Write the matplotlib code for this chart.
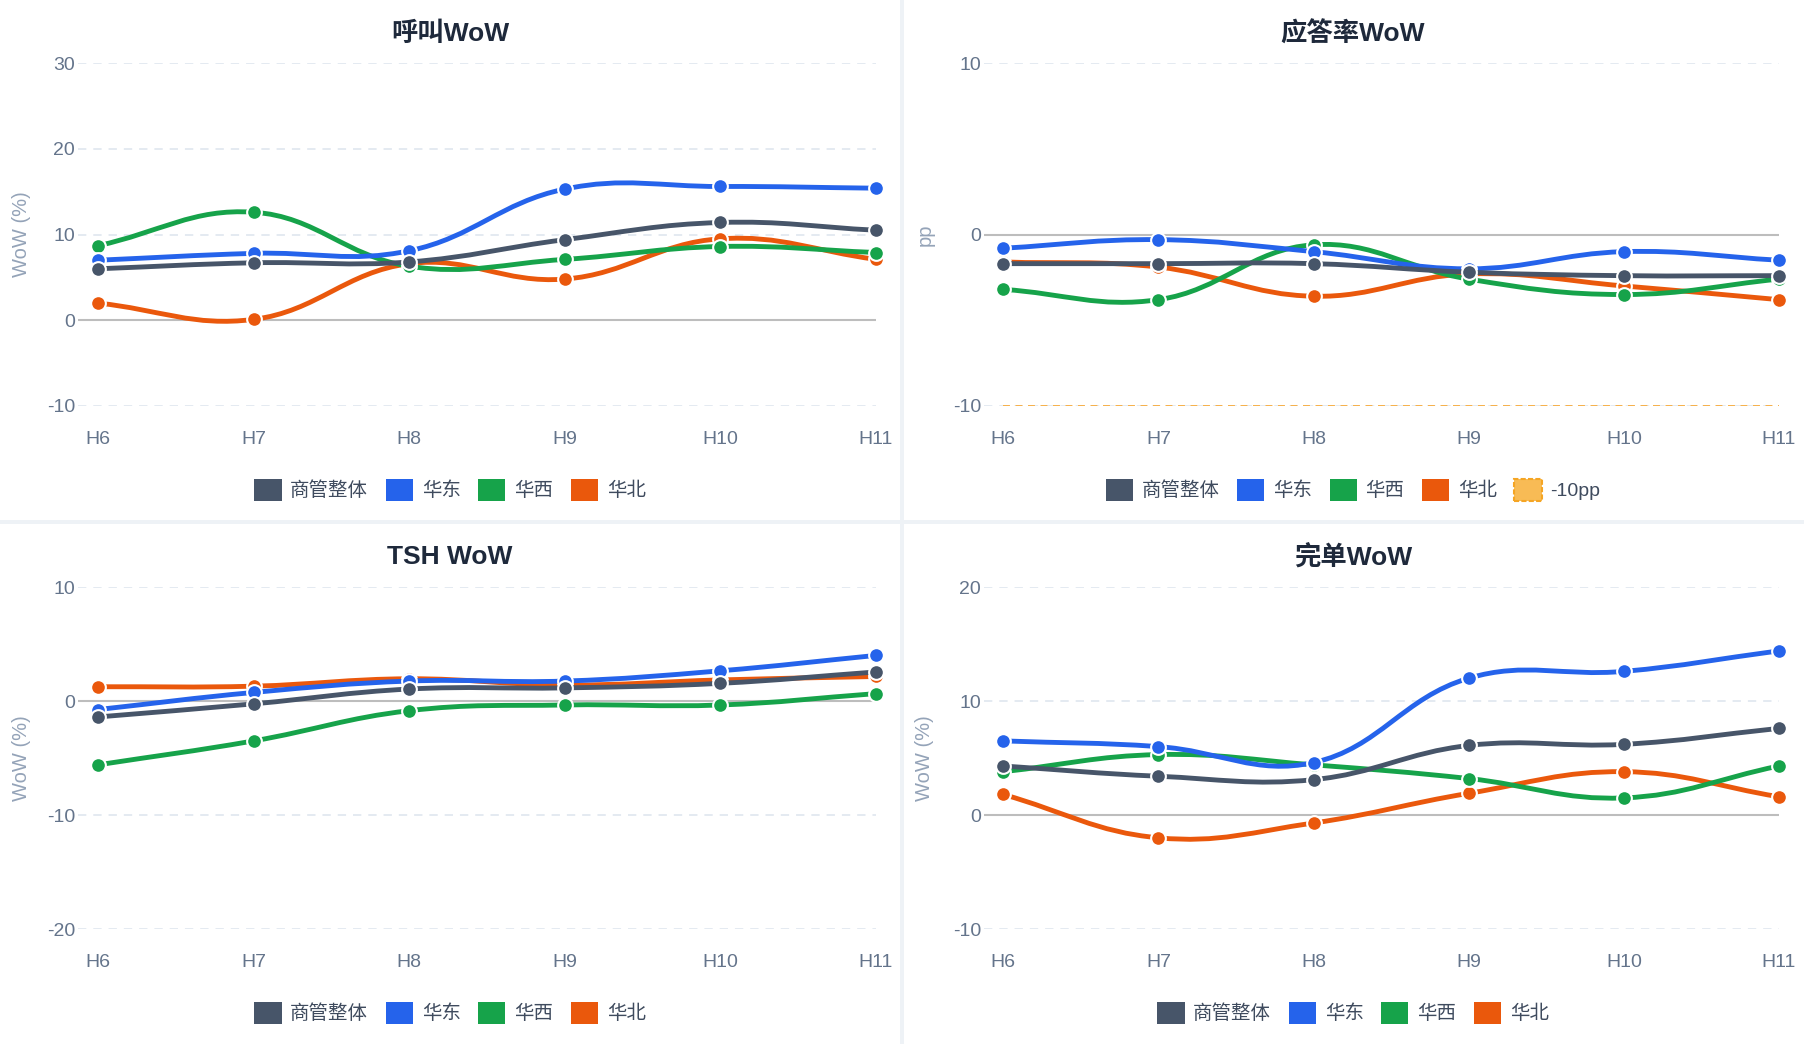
import numpy as np
import matplotlib
matplotlib.use('Agg')
import matplotlib.pyplot as plt
from matplotlib.path import Path
from matplotlib.patches import PathPatch, Patch, Rectangle

plt.rcParams['font.family'] = ['Liberation Sans', 'Noto Sans CJK SC']
plt.rcParams['lines.scale_dashes'] = False

# ---- data ----
hours = ['H6', 'H7', 'H8', 'H9', 'H10', 'H11']
names = ['商管整体', '华东', '华西', '华北']
colors = ['#475569', '#2563eb', '#16a34a', '#ea580c']

# 呼叫WoW (%)
call_overall = [6.0, 6.7, 6.8, 9.4, 11.4, 10.5]
call_east = [7.0, 7.8, 8.1, 15.3, 15.6, 15.4]
call_west = [8.7, 12.6, 6.3, 7.1, 8.6, 7.9]
call_north = [2.0, 0.1, 6.6, 4.8, 9.5, 7.1]

# 应答率WoW (pp)
ans_overall = [-1.7, -1.7, -1.7, -2.2, -2.4, -2.4]
ans_east = [-0.8, -0.3, -1.0, -2.0, -1.0, -1.5]
ans_west = [-3.2, -3.8, -0.6, -2.6, -3.5, -2.6]
ans_north = [-1.6, -1.9, -3.6, -2.3, -3.0, -3.8]
ans_threshold = -10

# TSH WoW (%)
tsh_overall = [-1.4, -0.25, 1.05, 1.15, 1.55, 2.55]
tsh_east = [-0.75, 0.75, 1.75, 1.75, 2.65, 4.0]
tsh_west = [-5.6, -3.5, -0.85, -0.35, -0.35, 0.65]
tsh_north = [1.25, 1.3, 1.95, 1.4, 1.85, 2.15]

# 完单WoW (%)
done_overall = [4.3, 3.4, 3.1, 6.1, 6.2, 7.6]
done_east = [6.5, 6.0, 4.6, 12.0, 12.6, 14.4]
done_west = [3.8, 5.3, 4.4, 3.2, 1.5, 4.3]
done_north = [1.8, -2.0, -0.7, 1.9, 3.8, 1.6]

W, H = 1804, 1044
fig = plt.figure(figsize=(W / 100, H / 100), dpi=100)
fig.patch.set_facecolor('#eef2f6')

# white panels
for x0, y0 in [(0, 0), (904, 0), (0, 524), (904, 524)]:
    fig.patches.append(Rectangle((x0 / W, 1 - (y0 + 520) / H), 900 / W, 520 / H,
                                 transform=fig.transFigure, facecolor='white',
                                 edgecolor='none', zorder=-1))


def smooth_path(ax, xs, ys, t=0.4):
    # spline with tension, control points worked out in pixel space
    pts = ax.transData.transform(np.column_stack([xs, ys]))
    n = len(pts)
    cps = []
    for i in range(n):
        cur = pts[i]
        prev = pts[i - 1] if i > 0 else cur
        nxt = pts[i + 1] if i < n - 1 else cur
        d01 = np.hypot(*(cur - prev))
        d12 = np.hypot(*(nxt - cur))
        s = d01 + d12
        fa = t * d01 / s
        fb = t * d12 / s
        cps.append((cur - fa * (nxt - prev), cur + fb * (nxt - prev)))
    verts = [pts[0]]
    codes = [Path.MOVETO]
    for i in range(1, n):
        verts += [cps[i - 1][1], cps[i][0], pts[i]]
        codes += [Path.CURVE4] * 3
    return Path(ax.transData.inverted().transform(np.array(verts)), codes)


def panel(rect_px, xleft, title, title_xy, ylim, ticks, ylabel, series, leg_xy, threshold=None):
    left, top, right, bottom = rect_px
    ax = fig.add_axes([left / W, 1 - bottom / H, (right - left) / W, (bottom - top) / H])
    ax.set_facecolor('none')
    x = np.arange(len(hours))
    ax.set_xlim(xleft, len(hours) - 1)
    ax.set_ylim(*ylim)
    ax.set_yticks(ticks)
    ax.set_yticklabels([str(t) for t in ticks])
    ax.set_xticks(x)
    ax.set_xticklabels(hours)
    for s in ax.spines.values():
        s.set_visible(False)
    ax.tick_params(length=0, labelsize=14, colors='#64748b')
    ax.tick_params(axis='x', pad=18)
    ax.tick_params(axis='y', pad=2)
    for t in ticks:
        if t == 0:
            ax.axhline(0, color='#bdbdbd', lw=1.5, zorder=1)
        else:
            ax.axhline(t, color='#e2e8f0', lw=1.3, ls=(0, (6, 5)), zorder=1)
    ax.set_ylabel(ylabel, fontsize=14.5, color='#94a3b8', va='center')
    ax.yaxis.set_label_coords((21 - left % 904) / (right - left), 0.5)

    handles = []
    # first series is drawn last (on top)
    for i, (vals, c, nm) in enumerate(zip(series, colors, names)):
        path = smooth_path(ax, x, vals)
        ax.add_patch(PathPatch(path, fill=False, edgecolor=c, lw=3.5, capstyle='round',
                               joinstyle='round', zorder=20 - 2 * i))
        ax.plot(x, vals, 'o', ms=10.6, mfc=c, mec='white', mew=1.5, zorder=21 - 2 * i,
                clip_on=False)
        handles.append(Patch(facecolor=c, edgecolor='none', label=nm))
    if threshold is not None:
        ax.plot(x[[0, -1]], [threshold, threshold], color='#f6b04a', lw=1.4,
                ls=(0, (5, 4)), zorder=2)
        handles.append(Patch(facecolor='#f8bb55', edgecolor='#f5a524', lw=1.5,
                             ls='--', label='-10pp'))

    fig.text(title_xy[0] / W, 1 - title_xy[1] / H, title, ha='center', va='center',
             fontsize=19, fontweight='bold', color='#1e293b')
    fig.legend(handles=handles, loc='center', bbox_to_anchor=(leg_xy[0] / W, 1 - leg_xy[1] / H),
               ncol=len(handles), frameon=False, fontsize=14, labelcolor='#3f4b5e',
               handlelength=1.4, handleheight=1.4, handletextpad=0.45, columnspacing=0.9)
    return ax


panel((78, 63, 876, 406), -0.1285, '呼叫WoW', (450, 34), (-10, 30), [-10, 0, 10, 20, 30],
      'WoW (%)', [call_overall, call_east, call_west, call_north], (450, 490))
panel((984, 63, 1779, 406), -0.124, '应答率WoW', (1353, 34), (-10, 10), [-10, 0, 10],
      'pp', [ans_overall, ans_east, ans_west, ans_north], (1353, 490), threshold=ans_threshold)
panel((78, 587, 876, 929), -0.1285, 'TSH WoW', (450, 557), (-20, 10), [-20, -10, 0, 10],
      'WoW (%)', [tsh_overall, tsh_east, tsh_west, tsh_north], (450, 1013))
panel((984, 587, 1779, 929), -0.124, '完单WoW', (1353, 557), (-10, 20), [-10, 0, 10, 20],
      'WoW (%)', [done_overall, done_east, done_west, done_north], (1353, 1013))

fig.savefig('out.png', dpi=100, facecolor=fig.get_facecolor())
